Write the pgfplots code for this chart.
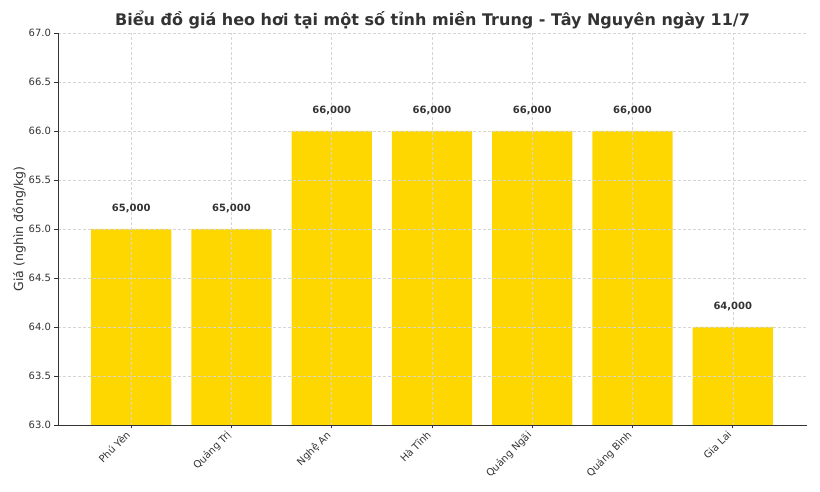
\documentclass[border=0pt]{standalone}
\usepackage{fontspec}
\setmainfont{DejaVu Sans}
\usepackage{pgfplots}
\pgfplotsset{compat=1.18}
\usepackage{pgfplotstable}
\definecolor{gold}{HTML}{FFD700}
\definecolor{txt}{HTML}{333333}
\definecolor{gridc}{HTML}{D5D5D5}
\pgfplotstableread{
x y label
0 65 65,000
1 65 65,000
2 66 66,000
3 66 66,000
4 66 66,000
5 66 66,000
6 64 64,000
}\datatable
\begin{document}
\begin{tikzpicture}
\useasboundingbox (-58pt,-67pt) rectangle (762pt,425pt);
\begin{axis}[
  at={(0,0)}, anchor=south west,
  scale only axis, width=749pt, height=392pt,
  xmin=-0.73, xmax=6.74, ymin=63, ymax=67,
  axis x line*=bottom, axis y line*=left,
  axis line style={-, color=txt, line width=0.8pt},
  ybar, bar width=0.8, bar shift=0pt,
  xtick=data,
  xticklabels={Phú Yên, Quảng Trị, Nghệ An, Hà Tĩnh, Quảng Ngãi, Quảng Bình, Gia Lai},
  x tick label style={font=\fontsize{10}{11}\selectfont, color=txt, inner sep=1pt, anchor=north east, xshift=-6pt, yshift=0pt, rotate=45},
  ytick={63,63.5,...,67},
  y tick label style={font=\fontsize{10}{11}\selectfont, color=txt},
  yticklabel style={/pgf/number format/.cd, fixed, fixed zerofill, precision=1, assume math mode=true},
  tick align=outside, major tick length=3.5pt,
  tick style={color=txt, line width=0.8pt},
  grid=major,
  major grid style={dash pattern=on 3pt off 2pt, color=gridc, line width=0.5pt},
  axis on top,
  ylabel={Giá (nghìn đồng/kg)},
  ylabel style={font=\fontsize{12.5}{14}\selectfont, color=txt, yshift=-4pt},
  title={\textbf{Biểu đồ giá heo hơi tại một số tỉnh miền Trung - Tây Nguyên ngày 11/7}},
  title style={font=\fontsize{16}{18}\selectfont, color=txt, yshift=-5pt},
  nodes near coords,
  point meta=explicit symbolic,
  every node near coord/.append style={font=\bfseries\fontsize{10}{11}\selectfont, color=txt, anchor=center, yshift=20pt},
]
\addplot[fill=gold, draw=none] table[x=x, y=y, meta=label] {\datatable};
\end{axis}
\end{tikzpicture}
\end{document}
